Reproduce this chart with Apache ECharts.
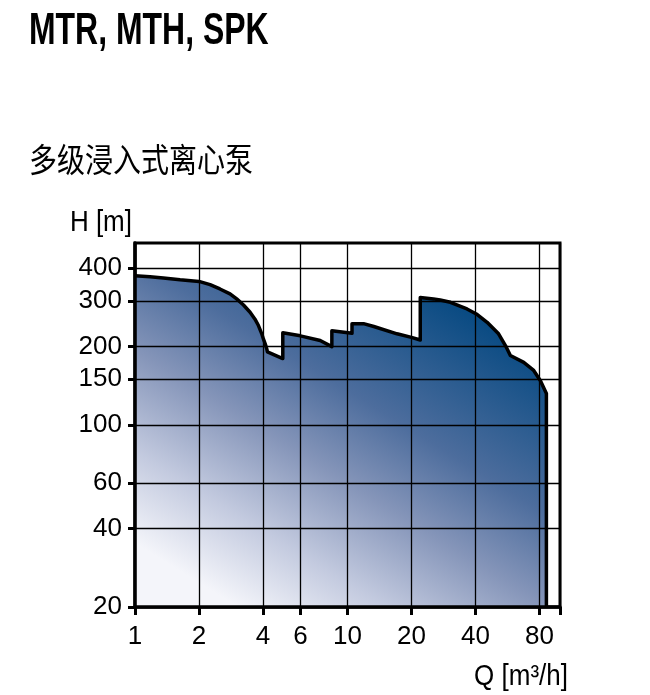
<!DOCTYPE html>
<html><head><meta charset="utf-8">
<script src="https://cdn.jsdelivr.net/npm/echarts@6/dist/echarts.min.js"></script>
<style>html,body{margin:0;padding:0;background:#fff}#c{width:650px;height:695px}</style>
</head><body><div id="c"></div>
<script>
const titleText = 'MTR, MTH, SPK';
const subtitleText = '多级浸入式离心泵';
const xName = 'Q [m³/h]';
const yName = 'H [m]';
const xTickLabels = [1, 2, 4, 6, 10, 20, 40, 80];
const xTicks = [1, 2, 4, 6, 10, 20, 40, 80, 100];
const yTickLabels = [20, 40, 60, 100, 150, 200, 300, 400];
const flowQ = [1, 1.177, 1.36, 1.63, 2, 2.256, 2.51, 2.8, 3.01, 3.24, 3.48, 3.67, 3.81, 3.95, 4.02, 4.1, 4.17, 4.2, 4.96, 4.96, 6, 7.44, 8.44, 8.44, 10.5, 10.5, 11.9, 13.3, 17.1, 20, 22, 22, 25.4, 27.3, 30.5, 36.5, 40.4, 45.4, 51.4, 55.9, 58.4, 67.5, 75.2, 80.9, 86.3, 86.3];
const headH = [374, 371, 367, 361, 356, 346, 333, 319, 305, 289, 271, 255, 241, 224, 214, 205, 196, 191, 180, 226, 220, 211, 200, 230, 225, 245, 245, 239, 224, 217, 212, 309, 305, 302, 296, 279, 267, 248, 224, 199, 185, 174, 162, 148, 132, 20];

const chart = echarts.init(document.getElementById('c'), null, {renderer: 'canvas'});
const labelFont = 'Liberation Sans, Arial, sans-serif';
chart.setOption({
  animation: false,
  backgroundColor: '#fff',
  grid: {left: 135, right: 90, top: 243, bottom: 88, show: true, borderColor: '#000', borderWidth: 3, outerBoundsMode: 'none'},
  graphic: [
    {type: 'text', x: 29, y: 31.5, scaleX: 0.726, style: {text: titleText, font: 'bold 44px "Liberation Sans", Arial, sans-serif', fill: '#000', verticalAlign: 'middle', align: 'left'}},
    {type: 'text', x: 29, y: 160, scaleY: 1.17, style: {text: subtitleText, font: '28px "Noto Sans CJK SC", sans-serif', fill: '#000', verticalAlign: 'middle', align: 'left'}},
    {type: 'text', x: 132, y: 223.5, scaleY: 1.1, style: {text: yName, font: '26px "Liberation Sans", Arial, sans-serif', fill: '#000', verticalAlign: 'middle', align: 'right'}},
    {type: 'text', x: 568, y: 677, scaleY: 1.1, style: {text: xName, font: '26px "Liberation Sans", Arial, sans-serif', fill: '#000', verticalAlign: 'middle', align: 'right'}}
  ],
  xAxis: {
    type: 'log', logBase: 10, min: 1, max: 100, z: 3,
    axisLine: {show: true, onZero: false, lineStyle: {color: '#000', width: 3.5}},
    axisTick: {show: true, customValues: xTicks, length: 8, lineStyle: {color: '#000', width: 3}},
    axisLabel: {customValues: xTickLabels, fontSize: 26, fontFamily: labelFont, color: '#000', margin: 17},
    splitLine: {show: true, lineStyle: {color: '#000', width: 1.3}},
    minorTick: {show: false}, minorSplitLine: {show: false}
  },
  yAxis: {
    type: 'log', logBase: 10, min: 20, max: 500, z: 3,
    axisLine: {show: true, onZero: false, lineStyle: {color: '#000', width: 3.5}},
    axisTick: {show: true, customValues: yTickLabels, length: 7, lineStyle: {color: '#000', width: 3}},
    axisLabel: {customValues: yTickLabels, fontSize: 26, fontFamily: labelFont, color: '#000', margin: 13},
    splitLine: {show: true, lineStyle: {color: '#000', width: 1.3}},
    minorTick: {show: false}, minorSplitLine: {show: false}
  },
  series: [{
    type: 'line', z: 1,
    data: flowQ.map((q, i) => [q, headH[i]]),
    symbol: 'none',
    lineStyle: {color: '#000', width: 3.5, join: 'round'},
    areaStyle: {
      origin: 'start', opacity: 1,
      color: new echarts.graphic.LinearGradient(0.25, 1, 0.75, 0, [
        {offset: 0, color: '#f4f5fa'},
        {offset: 0.2, color: '#c3cadf'},
        {offset: 0.42, color: '#8595b9'},
        {offset: 0.62, color: '#4d6d9d'},
        {offset: 1, color: '#00467f'}
      ])
    }
  }]
});
</script></body></html>
